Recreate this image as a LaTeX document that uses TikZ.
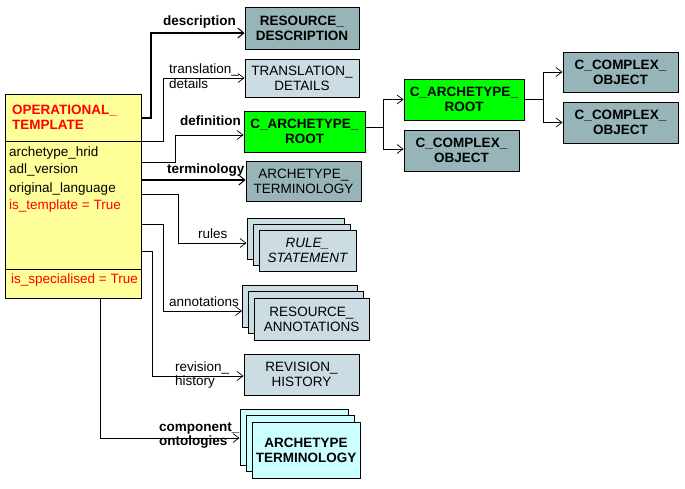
\documentclass[tikz,border=0pt]{standalone}
\usepackage{fontspec}
\setmainfont{Liberation Sans}
\usetikzlibrary{arrows.meta}
\definecolor{otyellow}{HTML}{FFFF99}
\definecolor{darkbox}{HTML}{97B4B8}
\definecolor{lightbox}{HTML}{CCDCE3}
\definecolor{greenbox}{HTML}{00FF00}
\definecolor{cyanbox}{HTML}{CCFFFF}
\definecolor{otred}{HTML}{FF0000}
\newcommand{\dfont}{\fontsize{13.5}{15}\selectfont}
\tikzset{
  box/.style={draw=black, line width=0.9pt, inner sep=0pt, align=center, font=\dfont},
  boldbox/.style={box, font=\dfont\bfseries},
  darkb/.style={fill=darkbox},
  lightb/.style={fill=lightbox},
  greenb/.style={fill=greenbox},
  cyanb/.style={fill=cyanbox},
  conn/.style={line width=0.8pt, -{Straight Barb[length=6pt,width=9pt,line width=0.7pt]}},
  thickconn/.style={line width=2.5pt, -{Straight Barb[length=6pt,width=10pt,line width=1pt]}},
  lbl/.style={inner sep=0pt, font=\dfont},
  blbl/.style={inner sep=0pt, font=\dfont\bfseries},
  attr/.style={inner sep=0pt, font=\dfont, anchor=base west},
}
\begin{document}
\begin{tikzpicture}[x=1pt,y=-1pt]
\useasboundingbox (0,0) rectangle (685,488);

% main class box
\node[draw=black, fill=otyellow, line width=0.9pt, inner sep=0pt, minimum width=136pt, minimum height=204pt] (ot) at (73,196) {};
\draw[line width=0.8pt] (5,141) -- (141,141);
\draw[line width=0.8pt] (5,269) -- (141,269);
\node[attr, font=\dfont\bfseries, text=otred] (t1) at (12,114) {OPERATIONAL\_};
\node[attr, font=\dfont\bfseries, text=otred] (t2) at (12,129) {TEMPLATE};
\node[attr] (a1) at (9,156) {archetype\_hrid};
\node[attr] (a2) at (9,173) {adl\_version};
\node[attr] (a3) at (9,192) {original\_language};
\node[attr, text=otred] (a4) at (9,209) {is\_template = True};
\node[attr, text=otred] (a5) at (11,283) {is\_specialised = True};

% connector start points on the main box
\coordinate (cdesc) at (141,118);
\coordinate (ctr) at (141,141);
\coordinate (cdef) at (141,162);
\coordinate (cterm) at (141,180);
\coordinate (crules) at (141,194);
\coordinate (cann) at (141,224);
\coordinate (crev) at (141,251);
\coordinate (ccomp) at (100,298);

% right-hand boxes
\node[boldbox, darkb, minimum width=114pt, minimum height=42pt] (rd) at (302,28) {RESOURCE\_\\DESCRIPTION};
\node[box, lightb, minimum width=114pt, minimum height=38pt] (tr) at (302,78) {TRANSLATION\_\\DETAILS};
\node[boldbox, greenb, minimum width=121pt, minimum height=41pt] (car) at (304.5,131.5) {C\_ARCHETYPE\_\\ROOT};
\node[box, darkb, minimum width=115pt, minimum height=40pt] (at) at (303.5,181) {ARCHETYPE\_\\TERMINOLOGY};

\node[box, lightb, minimum width=97pt, minimum height=41pt] (rsb) at (295.5,238.5) {};
\node[box, lightb, minimum width=97pt, minimum height=41pt] (rsm) at (301.5,244.5) {};
\node[box, lightb, minimum width=97pt, minimum height=41pt, font=\dfont\itshape] (rsf) at (307.5,250.5) {RULE\_\\STATEMENT};

\node[box, lightb, minimum width=115pt, minimum height=42pt] (rab) at (300,306) {};
\node[box, lightb, minimum width=115pt, minimum height=42pt] (ram) at (305.5,312.5) {};
\node[box, lightb, minimum width=115pt, minimum height=42pt] (raf) at (311.5,319) {RESOURCE\_\\ANNOTATIONS};

\node[box, lightb, minimum width=115pt, minimum height=41pt] (rh) at (301.5,374.5) {REVISION\_\\HISTORY};

\node[boldbox, cyanb, minimum width=108pt, minimum height=56pt] (cob) at (294,437) {};
\node[boldbox, cyanb, minimum width=108pt, minimum height=56pt] (com) at (300,443.5) {};
\node[boldbox, cyanb, minimum width=108pt, minimum height=56pt] (cof) at (306,450) {ARCHETYPE\\TERMINOLOGY};

\node[boldbox, greenb, minimum width=120pt, minimum height=41pt] (car2) at (464,99.5) {C\_ARCHETYPE\_\\ROOT};
\node[boldbox, darkb, minimum width=115pt, minimum height=41pt] (cco1) at (461.5,150.5) {C\_COMPLEX\_\\OBJECT};
\node[boldbox, darkb, minimum width=115pt, minimum height=40pt] (cco2) at (620.5,72) {C\_COMPLEX\_\\OBJECT};
\node[boldbox, darkb, minimum width=115pt, minimum height=41pt] (cco3) at (620.5,122.5) {C\_COMPLEX\_\\OBJECT};

% connectors
\draw[thickconn] (cdesc) -- (151,118) |- ([yshift=-5pt]rd.west);
\draw[conn] (ctr) -- (163,141) |- (tr.west);
\draw[conn] (cdef) -- (175,162) |- ([yshift=-3.5pt]car.west);
\draw[thickconn] (cterm) -- (at.west |- cterm);
\draw[conn] (crules) -- (178,194) |- ([yshift=-4.5pt]rsb.west);
\draw[conn] (cann) -- (163,224) |- ([yshift=-5pt]rab.west);
\draw[conn] (crev) -- (152,251) |- ([yshift=-1.5pt]rh.west);
\draw[conn] (ccomp) |- ([yshift=-1pt]cob.west);

\coordinate (j1) at (383,127);
\draw[conn] ([yshift=4.5pt]car.east) -- (j1) |- (car2.west);
\draw[conn] (j1) |- ([yshift=1.5pt]cco1.west);
\coordinate (j2) at (543,99.5);
\draw[conn] (car2.east) -- (j2) |- (cco2.west);
\draw[conn] (j2) |- (cco3.west);

% labels
\node[blbl, anchor=base east] (ldesc) at (236,25) {description};
\node[lbl, anchor=base west] (ltr1) at (169,73) {translation\_};
\node[lbl, anchor=base west] (ltr2) at (169,88) {details};
\node[blbl, anchor=base east] (ldef) at (241,125) {definition};
\node[blbl, anchor=base west] (lterm) at (167,173) {terminology};
\node[lbl, anchor=base west] (lrules) at (198,238) {rules};
\node[lbl, anchor=base west] (lann) at (169,306) {annotations};
\node[lbl, anchor=base west] (lrev1) at (175,371) {revision\_};
\node[lbl, anchor=base west] (lrev2) at (175,385) {history};
\node[blbl, anchor=base west] (lcomp1) at (159,431) {component\_};
\node[blbl, anchor=base west] (lcomp2) at (159,445) {ontologies};
\end{tikzpicture}
\end{document}
